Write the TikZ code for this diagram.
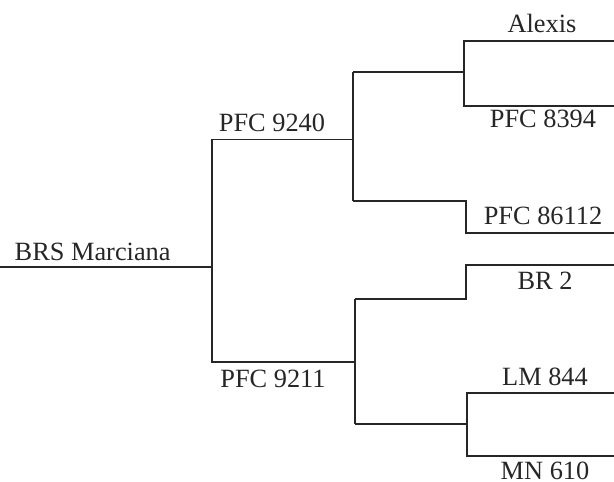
\documentclass[tikz,border=0pt]{standalone}
\usepackage{fontspec}
\setmainfont{Liberation Serif}
\begin{document}
\begin{tikzpicture}[x=0.02cm, y=-0.02cm, line width=0.8pt, draw=black!85,
    animal/.style={anchor=base, inner sep=0pt, text=black!85, font=\fontsize{15}{18}\selectfont}]
      \useasboundingbox (0,0) rectangle (614,482);
      % generation 0
      \coordinate (brsl) at (0,267);
      \coordinate (brsr) at (212,267);
      \node [animal, anchor=base west] (brs) at (14,261) {BRS Marciana};
      % generation 1
      \coordinate (p9240l) at (212,139.5);
      \coordinate (p9240r) at (353,139.5);
      \coordinate (p9211l) at (212,362);
      \coordinate (p9211r) at (355,362);
      \node [animal] (p9240) at (272,132) {PFC 9240};
      \node [animal] (p9211) at (273,387) {PFC 9211};
      % generation 2, sire side
      \coordinate (j1t) at (353,72);
      \coordinate (j1b) at (353,201);
      \coordinate (a1) at (464,72);
      \coordinate (alexisl) at (464,41);
      \coordinate (alexisr) at (614,41);
      \coordinate (p8394l) at (464,106);
      \coordinate (p8394r) at (614,106);
      \coordinate (p86112l) at (466,233);
      \coordinate (p86112r) at (614,233);
      \node [animal] (alexis) at (542,33) {Alexis};
      \node [animal] (p8394) at (543,128) {PFC 8394};
      \node [animal] (p86112) at (543,225) {PFC 86112};
      % generation 2, dam side
      \coordinate (j2t) at (355,299);
      \coordinate (j2b) at (355,424);
      \coordinate (a2) at (467,424);
      \coordinate (br2l) at (466,265);
      \coordinate (br2r) at (614,265);
      \coordinate (lm844l) at (467,393);
      \coordinate (lm844r) at (614,393);
      \coordinate (mn610l) at (467,456);
      \coordinate (mn610r) at (614,456);
      \node [animal] (br2) at (545,290) {BR 2};
      \node [animal] (lm844) at (545,385) {LM 844};
      \node [animal] (mn610) at (545,479) {MN 610};

      % links
      \draw (brsl) -- (brsr);
      \draw (p9240r) -- (p9240l) -- (p9211l) -- (p9211r);
      \draw (j1t) -- (j1b);
      \draw (j1t) -- (a1);
      \draw (alexisr) -- (alexisl) -- (p8394l) -- (p8394r);
      \draw (j1b) -| (p86112l) -- (p86112r);
      \draw (j2t) -- (j2b);
      \draw (j2t) -| (br2l) -- (br2r);
      \draw (j2b) -- (a2);
      \draw (lm844r) -- (lm844l) -- (mn610l) -- (mn610r);
    \end{tikzpicture}
\end{document}
